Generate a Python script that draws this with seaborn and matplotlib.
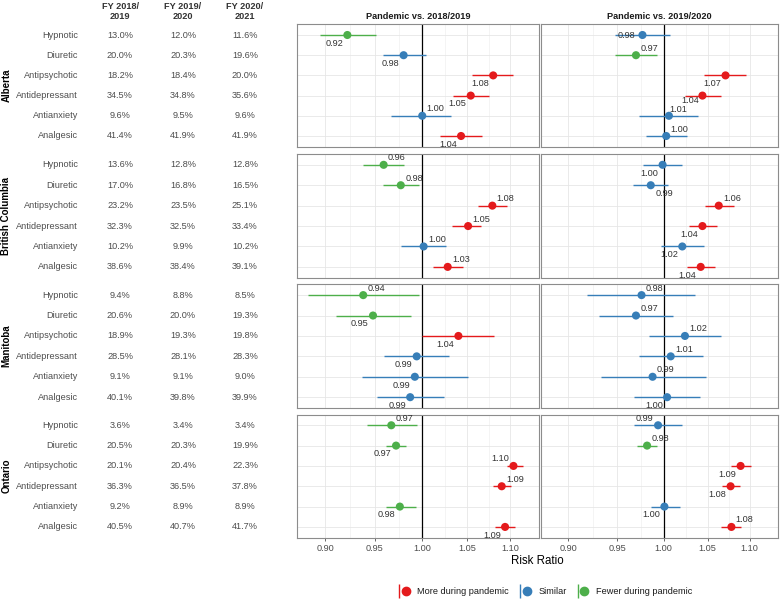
import numpy as np
import pandas as pd
import seaborn as sns
import matplotlib
matplotlib.use("Agg")
import matplotlib.pyplot as plt
from matplotlib.ticker import FixedLocator, NullFormatter, FixedFormatter
from matplotlib.lines import Line2D
from matplotlib.legend_handler import HandlerTuple

# ---------------- data ----------------
provinces = ["Alberta", "British Columbia", "Manitoba", "Ontario"]
drug_classes = ["Hypnotic", "Diuretic", "Antipsychotic", "Antidepressant", "Antianxiety", "Analgesic"]
fy_labels = ["FY 2018/\n2019", "FY 2019/\n2020", "FY 2020/\n2021"]
comparisons = ["Pandemic vs. 2018/2019", "Pandemic vs. 2019/2020"]

pct_2018 = [[13.0, 20.0, 18.2, 34.5, 9.6, 41.4],
            [13.6, 17.0, 23.2, 32.3, 10.2, 38.6],
            [9.4, 20.6, 18.9, 28.5, 9.1, 40.1],
            [3.6, 20.5, 20.1, 36.3, 9.2, 40.5]]
pct_2019 = [[12.0, 20.3, 18.4, 34.8, 9.5, 41.9],
            [12.8, 16.8, 23.5, 32.5, 9.9, 38.4],
            [8.8, 20.0, 19.3, 28.1, 9.1, 39.8],
            [3.4, 20.3, 20.4, 36.5, 8.9, 40.7]]
pct_2020 = [[11.6, 19.6, 20.0, 35.6, 9.6, 41.9],
            [12.8, 16.5, 25.1, 33.4, 10.2, 39.1],
            [8.5, 19.3, 19.8, 28.3, 9.0, 39.9],
            [3.4, 19.9, 22.3, 37.8, 8.9, 41.7]]

# Pandemic vs. 2018/2019
rr_a = [[0.922, 0.980, 1.080, 1.054, 1.000, 1.043],
        [0.959, 0.977, 1.079, 1.051, 1.0015, 1.028],
        [0.938, 0.948, 1.040, 0.994, 0.992, 0.987],
        [0.967, 0.972, 1.104, 1.090, 0.976, 1.094]]
lo_a = [[0.895, 0.958, 1.056, 1.034, 0.967, 1.020],
        [0.938, 0.958, 1.062, 1.033, 0.977, 1.012],
        [0.883, 0.911, 1.000, 0.959, 0.937, 0.952],
        [0.942, 0.961, 1.096, 1.080, 0.961, 1.082]]
hi_a = [[0.951, 1.004, 1.104, 1.075, 1.032, 1.067],
        [0.980, 0.996, 1.096, 1.066, 1.026, 1.045],
        [0.996, 0.988, 1.081, 1.029, 1.051, 1.024],
        [0.994, 0.983, 1.116, 1.101, 0.993, 1.106]]
cat_a = [["Fewer", "Similar", "More", "More", "Similar", "More"],
         ["Fewer", "Fewer", "More", "More", "Similar", "More"],
         ["Fewer", "Fewer", "More", "Similar", "Similar", "Similar"],
         ["Fewer", "Fewer", "More", "More", "Fewer", "More"]]

# Pandemic vs. 2019/2020
rr_b = [[0.977, 0.970, 1.071, 1.044, 1.006, 1.003],
        [0.999, 0.986, 1.063, 1.044, 1.021, 1.042],
        [0.976, 0.970, 1.024, 1.008, 0.988, 1.004],
        [0.994, 0.982, 1.089, 1.077, 1.001, 1.078]]
lo_b = [[0.948, 0.948, 1.046, 1.024, 0.973, 0.981],
        [0.978, 0.967, 1.047, 1.029, 0.997, 1.026],
        [0.919, 0.931, 0.984, 0.973, 0.933, 0.968],
        [0.968, 0.971, 1.078, 1.067, 0.986, 1.066]]
hi_b = [[1.007, 0.993, 1.095, 1.066, 1.039, 1.026],
        [1.021, 1.005, 1.081, 1.061, 1.046, 1.059],
        [1.036, 1.011, 1.066, 1.045, 1.048, 1.041],
        [1.021, 0.993, 1.101, 1.088, 1.018, 1.090]]
cat_b = [["Similar", "Fewer", "More", "More", "Similar", "Similar"],
         ["Similar", "Similar", "More", "More", "Similar", "More"],
         ["Similar", "Similar", "Similar", "Similar", "Similar", "Similar"],
         ["Similar", "Fewer", "More", "More", "Similar", "More"]]

# label placement (layout only)
place_a = [["bl", "bl", "bl", "bl", "ar", "bl"],
           ["ar", "ar", "ar", "ar", "ar", "ar"],
           ["ar", "bl", "bl", "bl", "bl", "bl"],
           ["ar", "bl", "al", "ar", "bl", "bl"]]
place_b = [["l", "ar", "bl", "bl2", "ar2", "ar"],
           ["bl", "br", "ar", "bl", "bl", "bl"],
           ["ar", "ar", "ar", "ar", "ar", "bl"],
           ["al", "ar", "bl", "bl", "bl", "ar"]]

cat_names = {"More": "More during pandemic", "Similar": "Similar", "Fewer": "Fewer during pandemic"}
palette = {"More": "#E41A1C", "Similar": "#377EB8", "Fewer": "#4DAF4A"}

rows = []
for comp, rr, lo, hi, cat, pl in [(comparisons[0], rr_a, lo_a, hi_a, cat_a, place_a),
                                  (comparisons[1], rr_b, lo_b, hi_b, cat_b, place_b)]:
    for pi, prov in enumerate(provinces):
        for di, dc in enumerate(drug_classes):
            rows.append(dict(comparison=comp, province=prov, drug=dc, y=di,
                             rr=rr[pi][di], lo=lo[pi][di], hi=hi[pi][di],
                             cat=cat[pi][di], place=pl[pi][di]))
df = pd.DataFrame(rows)

# ---------------- style ----------------
sns.set_theme(style="white")
plt.rcParams["font.family"] = ["Liberation Sans", "DejaVu Sans"]

W, H = 780, 602
fig = plt.figure(figsize=(W / 100, H / 100), dpi=100)


def fax(x0, y0, x1, y1):
    return fig.add_axes([x0 / W, 1 - y1 / H, (x1 - x0) / W, (y1 - y0) / H])


panel_y = [(24.3, 146.7), (154.0, 277.7), (284.3, 408.0), (414.5, 537.7)]
panel_x = [(297.0, 539.0), (540.7, 778.0)]
col_x = [120, 183, 245]
txt_gray = "#4D4D4D"
fs_small = 6.6
offsets = {"bl": (-9.5, -6.0), "ar": (9.5, 5.0), "al": (-9.5, 5.0),
           "br": (9.5, -6.0), "l": (-11.5, 0.0),
           "bl2": (-8.5, -3.6), "ar2": (7.0, 4.8)}
xlim = (0.873, 1.135)
ylim = (5.53, -0.53)

for pi, prov in enumerate(provinces):
    y0, y1 = panel_y[pi]
    # table axes
    tax = fax(0, y0, 296, y1)
    tax.set_xlim(0, 296)
    tax.set_ylim(*ylim)
    tax.axis("off")
    for di, dc in enumerate(drug_classes):
        tax.text(78, di, dc, ha="right", va="center", fontsize=fs_small, color=txt_gray)
        for ci, vals in enumerate([pct_2018, pct_2019, pct_2020]):
            tax.text(col_x[ci], di, f"{vals[pi][di]:.1f}%", ha="center", va="center",
                     fontsize=fs_small, color=txt_gray)
    tax.text(6.5, 2.5, prov, rotation=90, ha="center", va="center", fontsize=7.0,
             fontweight="bold", color="black")

    for ci, comp in enumerate(comparisons):
        x0, x1 = panel_x[ci]
        ax = fax(x0, y0, x1, y1)
        sub = df[(df.province == prov) & (df.comparison == comp)]
        ax.set_xscale("log")
        ax.set_xlim(*xlim)
        ax.set_ylim(*ylim)
        ax.xaxis.set_major_locator(FixedLocator([0.90, 0.95, 1.00, 1.05, 1.10]))
        ax.xaxis.set_minor_locator(FixedLocator([0.925, 0.975, 1.025, 1.075]))
        ax.xaxis.set_minor_formatter(NullFormatter())
        ax.set_yticks(range(6))
        ax.set_yticklabels([])
        ax.grid(True, which="major", color="#E6E6E6", lw=0.6, zorder=0)
        ax.grid(True, which="minor", axis="x", color="#F0F0F0", lw=0.5, zorder=0)
        ax.set_axisbelow(True)
        ax.axvline(1.0, color="black", lw=0.9, zorder=1)
        ax.hlines(sub["y"], sub["lo"], sub["hi"], colors=[palette[c] for c in sub["cat"]],
                  lw=1.0, zorder=2)
        sns.scatterplot(data=sub, x="rr", y="y", hue="cat", palette=palette, s=34,
                        edgecolor="none", legend=False, ax=ax, zorder=3)
        for _, r in sub.iterrows():
            dx, dy = offsets[r["place"]]
            ax.annotate(f"{r['rr']:.2f}", (r["rr"], r["y"]), xytext=(dx, dy),
                        textcoords="offset points", ha="center", va="center",
                        fontsize=fs_small, color="#333333", zorder=4)
        ax.set_xlabel("")
        ax.set_ylabel("")
        for s in ax.spines.values():
            s.set_color("#8C8C8C")
            s.set_linewidth(0.8)
        ax.tick_params(axis="y", length=0)
        if pi == len(provinces) - 1:
            ax.xaxis.set_major_formatter(FixedFormatter(["0.90", "0.95", "1.00", "1.05", "1.10"]))
            ax.tick_params(axis="x", which="major", length=2.5, width=0.6, color="#4D4D4D",
                           labelsize=fs_small, labelcolor=txt_gray, pad=2, bottom=True)
            ax.tick_params(axis="x", which="minor", length=0)
        else:
            ax.tick_params(axis="x", which="both", length=0, labelbottom=False)
        if pi == 0:
            ax.set_title(comp, fontsize=6.6, fontweight="bold", pad=4, color="#1A1A1A")

# column headers
for ci, lab in enumerate(fy_labels):
    fig.text(col_x[ci] / W, 1 - 11.5 / H, lab, ha="center", va="center", fontsize=6.6,
             fontweight="bold", color="#333333", linespacing=1.05)

fig.text(537 / W, 1 - 561 / H, "Risk Ratio", ha="center", va="center", fontsize=8.3,
         color="black")

handles = []
labels = []
for k in ["More", "Similar", "Fewer"]:
    h1 = Line2D([], [], color=palette[k], marker="|", markersize=10, mew=1.0, linestyle="none")
    h2 = Line2D([], [], color=palette[k], marker="o", markersize=6, linestyle="none")
    handles.append((h1, h2))
    labels.append(cat_names[k])
fig.legend(handles, labels, handler_map={tuple: HandlerTuple(ndivide=None)}, ncol=3,
           loc="center", bbox_to_anchor=(545 / W, 1 - 592 / H), frameon=False,
           fontsize=6.6, handlelength=1.0, handletextpad=1.1, columnspacing=1.1,
           labelcolor="#1A1A1A")

fig.savefig("out.png", dpi=100)
